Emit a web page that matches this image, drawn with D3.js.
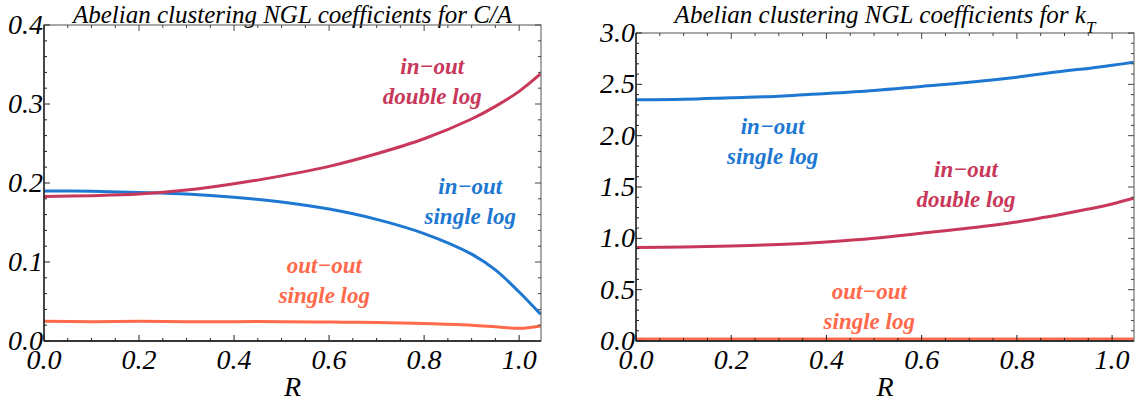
<!DOCTYPE html>
<html>
<head>
<meta charset="utf-8">
<script src="https://cdn.jsdelivr.net/npm/d3@7"></script>
<style>
  body { margin: 0; background: #fff; }
  svg { display: block; }
</style>
</head>
<body>
<svg id="chart" width="1137" height="405"></svg>
<script>
// R grid shared by all curves
var rValues = [0, 0.1, 0.2, 0.3, 0.4, 0.5, 0.6, 0.7, 0.8, 0.9, 0.95, 1.0, 1.045];

// left panel: C/A
var caDoubleLog = [0.183, 0.184, 0.186, 0.191, 0.199, 0.209, 0.221, 0.237, 0.256, 0.281, 0.297, 0.316, 0.338];
var caSingleLog = [0.190, 0.1895, 0.188, 0.186, 0.182, 0.176, 0.167, 0.154, 0.136, 0.110, 0.090, 0.062, 0.034];
var caOutOut    = [0.025, 0.0245, 0.025, 0.0245, 0.0245, 0.0245, 0.024, 0.0235, 0.022, 0.020, 0.018, 0.016, 0.019];

// right panel: kT
var ktSingleLog = [2.35, 2.355, 2.37, 2.385, 2.41, 2.44, 2.48, 2.52, 2.57, 2.63, 2.655, 2.685, 2.715];
var ktDoubleLog = [0.91, 0.915, 0.925, 0.94, 0.965, 1.0, 1.05, 1.10, 1.16, 1.24, 1.285, 1.335, 1.39];
var ktOutOut    = [0.02, 0.02, 0.02, 0.02, 0.02, 0.02, 0.02, 0.02, 0.02, 0.02, 0.02, 0.02, 0.02];

var xTickLabels = ["0.0", "0.2", "0.4", "0.6", "0.8", "1.0"];
var caTickLabels = ["0.0", "0.1", "0.2", "0.3", "0.4"];
var ktTickLabels = ["0.0", "0.5", "1.0", "1.5", "2.0", "2.5", "3.0"];

var red = "#c8385a", blue = "#1e78d2", orange = "#ff6a4d";
var serif = "'Liberation Serif', 'Times New Roman', Tinos, 'DejaVu Serif', serif";
var svg = d3.select("#chart");

function txt(g, x, y, size) {
  return g.append("text").attr("x", x).attr("y", y)
    .attr("font-family", serif).attr("font-style", "italic").attr("font-size", size);
}

function drawPanel(p) {
  var x = d3.scaleLinear().domain([0, 1.046]).range([p.left, p.right]);
  var y = d3.scaleLinear().domain(p.yDomain).range([p.bottom, p.top]);
  var g = svg.append("g");

  // title
  txt(g, (p.left + p.right) / 2, 23, 25)
    .attr("text-anchor", "middle")
    .html(p.title);

  // curves
  var line = d3.line()
    .x(function(d, i) { return x(rValues[i]); })
    .y(function(d) { return y(d); })
    .curve(d3.curveCatmullRom);
  p.series.forEach(function(s) {
    g.append("path").attr("d", line(s.vals))
      .attr("fill", "none").attr("stroke", s.color)
      .attr("stroke-width", 3).attr("stroke-linejoin", "round");
  });

  // frame
  g.append("rect")
    .attr("x", p.left).attr("y", p.top)
    .attr("width", p.right - p.left).attr("height", p.bottom - p.top)
    .attr("fill", "none").attr("stroke", "#555").attr("stroke-width", 1);
  g.append("line").attr("x1", p.left).attr("x2", p.left)
    .attr("y1", p.top).attr("y2", p.bottom).attr("stroke", "#111").attr("stroke-width", 1.3);
  g.append("line").attr("x1", p.left).attr("x2", p.right)
    .attr("y1", p.bottom).attr("y2", p.bottom).attr("stroke", "#111").attr("stroke-width", 1.3);

  // ticks pointing inward, mirrored on top/right
  var xt = d3.range(0, 1.046, 0.05);
  xt.forEach(function(t, i) {
    var len = i % 4 === 0 ? 6 : 3;
    g.append("line").attr("x1", x(t)).attr("x2", x(t))
      .attr("y1", p.bottom).attr("y2", p.bottom - len).attr("stroke", "#222");
    g.append("line").attr("x1", x(t)).attr("x2", x(t))
      .attr("y1", p.top).attr("y2", p.top + len).attr("stroke", "#444");
  });
  var yt = d3.range(0, p.yDomain[1] + 1e-9, p.minor);
  yt.forEach(function(t, i) {
    var len = i % p.perMajor === 0 ? 6 : 3;
    g.append("line").attr("x1", p.left).attr("x2", p.left + len)
      .attr("y1", y(t)).attr("y2", y(t)).attr("stroke", "#222");
    g.append("line").attr("x1", p.right).attr("x2", p.right - len)
      .attr("y1", y(t)).attr("y2", y(t)).attr("stroke", "#444");
  });

  // tick labels
  xTickLabels.forEach(function(l) {
    txt(g, x(+l), p.bottom + 28, 28).attr("text-anchor", "middle").text(l);
  });
  p.yLabels.forEach(function(l) {
    txt(g, p.left - 1, y(+l) + 9, 28).attr("text-anchor", "end").text(l);
  });
  txt(g, (p.left + p.right) / 2, 396, 28).attr("text-anchor", "middle").text("R");

  // curve labels
  p.notes.forEach(function(n) {
    n.lines.forEach(function(t, k) {
      txt(g, x(n.r), y(n.v) + k * 30, 23)
        .attr("text-anchor", "middle")
        .attr("font-weight", "bold").attr("fill", n.color).text(t);
    });
  });
}

drawPanel({
  left: 44, right: 541, top: 25, bottom: 341,
  yDomain: [0, 0.4], minor: 0.02, perMajor: 5, yLabels: caTickLabels,
  title: "Abelian clustering NGL coefficients for C/A",
  series: [
    { vals: caOutOut, color: orange },
    { vals: caSingleLog, color: blue },
    { vals: caDoubleLog, color: red }
  ],
  notes: [
    { r: 0.817, v: 0.338, lines: ["in\u2212out", "double log"], color: red },
    { r: 0.897, v: 0.186, lines: ["in\u2212out", "single log"], color: blue },
    { r: 0.59, v: 0.086, lines: ["out\u2212out", "single log"], color: orange }
  ]
});

drawPanel({
  left: 636, right: 1134, top: 33, bottom: 341,
  yDomain: [0, 3], minor: 0.1, perMajor: 5, yLabels: ktTickLabels,
  title: "Abelian clustering NGL coefficients for k<tspan baseline-shift='sub' font-size='17'>T</tspan>",
  series: [
    { vals: ktOutOut, color: orange },
    { vals: ktSingleLog, color: blue },
    { vals: ktDoubleLog, color: red }
  ],
  notes: [
    { r: 0.287, v: 2.015, lines: ["in\u2212out", "single log"], color: blue },
    { r: 0.693, v: 1.597, lines: ["in\u2212out", "double log"], color: red },
    { r: 0.49, v: 0.41, lines: ["out\u2212out", "single log"], color: orange }
  ]
});
</script>
</body>
</html>
